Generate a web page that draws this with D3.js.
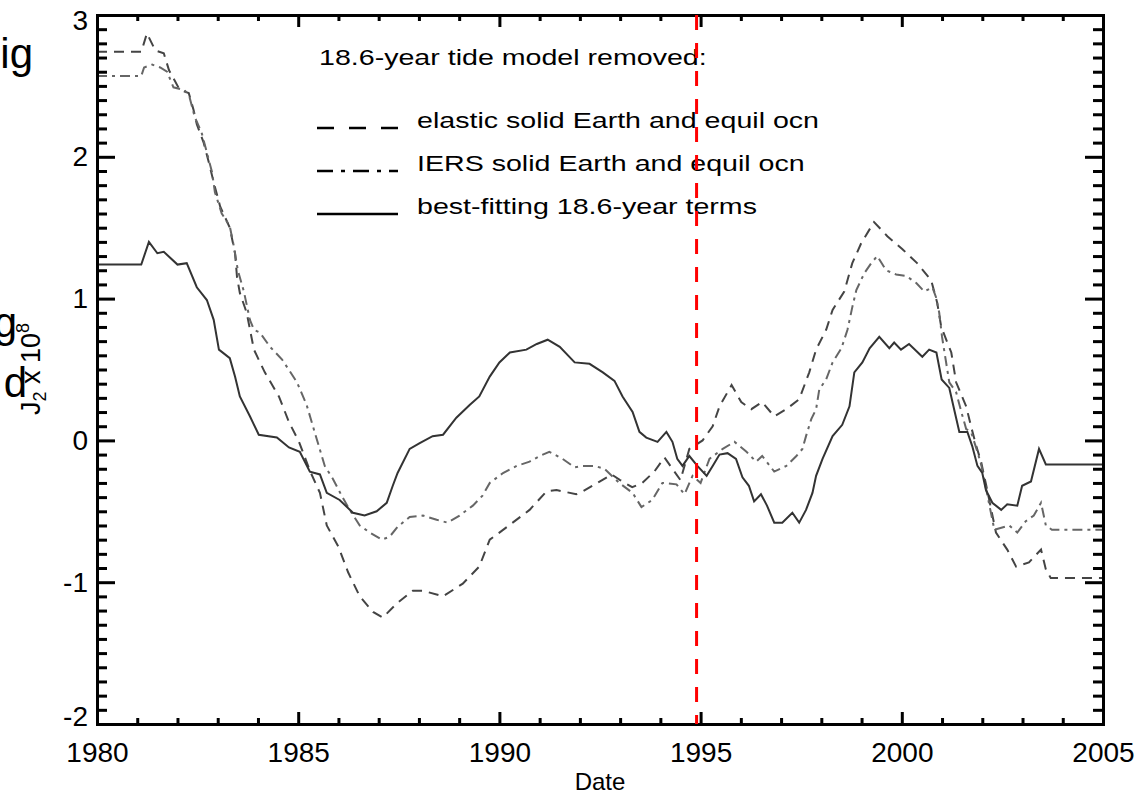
<!DOCTYPE html>
<html>
<head>
<meta charset="utf-8">
<script src="https://cdn.jsdelivr.net/npm/d3@7"></script>
<style>
  body { margin: 0; background: #fff; }
  text { font-family: "Liberation Sans", Arial, sans-serif; fill: #000; }
  .axis path, .axis line { stroke: #000; stroke-width: 3; }
  .axis text { font-size: 28px; }
  .legend text { font-size: 22px; }
</style>
</head>
<body>
<script>
// J2 anomaly series, [year, value x 1e8]
var elastic = [[1980.0,2.74],[1981.1,2.74],[1981.24,2.87],[1981.45,2.75],[1981.66,2.73],[1981.79,2.61],[1982.06,2.47],[1982.28,2.45],[1982.4,2.33],[1982.48,2.23],[1982.65,2.10],[1982.78,1.96],[1982.9,1.82],[1983.06,1.65],[1983.3,1.50],[1983.43,1.32],[1983.48,1.15],[1983.55,1.04],[1983.72,0.90],[1983.9,0.64],[1984.17,0.48],[1984.52,0.31],[1984.77,0.13],[1985.02,-0.01],[1985.3,-0.22],[1985.54,-0.37],[1985.71,-0.60],[1986.0,-0.75],[1986.24,-0.93],[1986.53,-1.10],[1986.86,-1.21],[1987.1,-1.25],[1987.45,-1.15],[1987.85,-1.06],[1988.1,-1.06],[1988.6,-1.10],[1989.09,-1.01],[1989.5,-0.89],[1989.76,-0.70],[1990.0,-0.65],[1990.33,-0.58],[1990.75,-0.49],[1991.17,-0.36],[1991.42,-0.35],[1991.91,-0.38],[1992.07,-0.36],[1992.49,-0.29],[1992.79,-0.24],[1993.0,-0.28],[1993.3,-0.33],[1993.55,-0.30],[1993.85,-0.22],[1994.1,-0.12],[1994.3,-0.20],[1994.5,-0.28],[1994.72,-0.06],[1995.05,0.0],[1995.3,0.10],[1995.47,0.24],[1995.77,0.39],[1996.01,0.27],[1996.26,0.22],[1996.53,0.27],[1996.83,0.17],[1997.13,0.22],[1997.45,0.29],[1997.7,0.48],[1997.87,0.64],[1998.12,0.78],[1998.28,0.92],[1998.57,1.05],[1998.77,1.25],[1998.99,1.39],[1999.31,1.54],[1999.64,1.44],[2000.01,1.35],[2000.38,1.25],[2000.73,1.13],[2000.88,0.97],[2000.98,0.80],[2001.23,0.62],[2001.35,0.41],[2001.6,0.24],[2001.72,0.10],[2001.85,-0.04],[2001.97,-0.15],[2002.1,-0.32],[2002.34,-0.65],[2002.62,-0.77],[2002.84,-0.89],[2003.16,-0.86],[2003.46,-0.77],[2003.58,-0.91],[2003.7,-0.97],[2005.0,-0.97]];

var iers = [[1980.0,2.57],[1981.1,2.57],[1981.17,2.63],[1981.37,2.65],[1981.57,2.63],[1981.74,2.60],[1981.9,2.49],[1982.18,2.47],[1982.3,2.42],[1982.43,2.28],[1982.6,2.17],[1982.73,2.03],[1982.86,1.89],[1982.93,1.75],[1983.1,1.60],[1983.3,1.51],[1983.4,1.37],[1983.5,1.20],[1983.65,1.05],[1983.8,0.85],[1983.9,0.78],[1984.05,0.76],[1984.3,0.66],[1984.6,0.57],[1984.97,0.41],[1985.21,0.25],[1985.46,0.01],[1985.66,-0.18],[1985.86,-0.27],[1986.08,-0.39],[1986.28,-0.49],[1986.53,-0.60],[1986.78,-0.65],[1987.08,-0.70],[1987.27,-0.68],[1987.47,-0.61],[1987.77,-0.54],[1988.1,-0.53],[1988.44,-0.56],[1988.71,-0.58],[1989.01,-0.53],[1989.34,-0.46],[1989.58,-0.39],[1989.76,-0.30],[1990.09,-0.23],[1990.43,-0.18],[1990.75,-0.15],[1991.0,-0.11],[1991.24,-0.08],[1991.57,-0.13],[1991.87,-0.19],[1992.07,-0.18],[1992.36,-0.18],[1992.61,-0.20],[1992.98,-0.30],[1993.31,-0.37],[1993.53,-0.47],[1993.8,-0.42],[1994.05,-0.30],[1994.4,-0.31],[1994.6,-0.38],[1994.8,-0.25],[1995.0,-0.30],[1995.22,-0.13],[1995.55,-0.06],[1995.84,-0.01],[1996.14,-0.08],[1996.38,-0.15],[1996.53,-0.11],[1996.83,-0.22],[1997.13,-0.18],[1997.38,-0.11],[1997.53,-0.06],[1997.62,0.03],[1997.75,0.15],[1997.87,0.22],[1997.95,0.36],[1998.12,0.43],[1998.28,0.55],[1998.5,0.65],[1998.65,0.78],[1998.77,0.94],[1998.87,1.06],[1999.07,1.18],[1999.24,1.25],[1999.39,1.30],[1999.61,1.20],[1999.86,1.17],[2000.11,1.16],[2000.36,1.11],[2000.56,1.05],[2000.76,1.08],[2000.85,1.01],[2000.93,0.90],[2001.0,0.73],[2001.18,0.41],[2001.35,0.34],[2001.48,0.20],[2001.6,0.08],[2001.72,0.06],[2001.88,-0.08],[2001.98,-0.18],[2002.3,-0.63],[2002.67,-0.60],[2002.87,-0.65],[2003.08,-0.57],[2003.28,-0.53],[2003.46,-0.44],[2003.58,-0.60],[2003.73,-0.63],[2005.0,-0.63]];

var best = [[1980.0,1.24],[1981.1,1.24],[1981.29,1.40],[1981.5,1.32],[1981.66,1.33],[1982.0,1.24],[1982.23,1.25],[1982.48,1.08],[1982.73,0.99],[1982.9,0.85],[1983.03,0.64],[1983.3,0.58],[1983.43,0.45],[1983.55,0.31],[1983.8,0.17],[1984.02,0.04],[1984.47,0.02],[1984.77,-0.05],[1985.04,-0.08],[1985.29,-0.22],[1985.54,-0.24],[1985.71,-0.37],[1986.03,-0.42],[1986.36,-0.51],[1986.65,-0.53],[1986.95,-0.50],[1987.2,-0.44],[1987.35,-0.32],[1987.47,-0.23],[1987.77,-0.06],[1988.02,-0.02],[1988.34,0.03],[1988.6,0.04],[1988.93,0.16],[1989.26,0.25],[1989.5,0.31],[1989.76,0.45],[1990.0,0.55],[1990.26,0.62],[1990.67,0.64],[1990.93,0.68],[1991.2,0.71],[1991.5,0.66],[1991.87,0.55],[1992.24,0.54],[1992.57,0.48],[1992.86,0.42],[1993.06,0.31],[1993.31,0.20],[1993.48,0.06],[1993.65,0.02],[1993.93,-0.01],[1994.15,0.06],[1994.3,-0.01],[1994.42,-0.13],[1994.55,-0.18],[1994.72,-0.11],[1994.92,-0.18],[1995.15,-0.25],[1995.3,-0.18],[1995.47,-0.10],[1995.67,-0.09],[1995.88,-0.13],[1996.04,-0.26],[1996.2,-0.32],[1996.33,-0.43],[1996.5,-0.38],[1996.65,-0.46],[1996.83,-0.58],[1997.03,-0.58],[1997.28,-0.51],[1997.45,-0.58],[1997.62,-0.49],[1997.78,-0.37],[1997.87,-0.25],[1998.03,-0.13],[1998.28,0.03],[1998.52,0.11],[1998.7,0.24],[1998.82,0.48],[1999.02,0.55],[1999.2,0.65],[1999.44,0.73],[1999.69,0.65],[1999.81,0.69],[1999.98,0.64],[2000.18,0.68],[2000.51,0.59],[2000.68,0.64],[2000.86,0.62],[2000.99,0.43],[2001.18,0.37],[2001.3,0.22],[2001.43,0.06],[2001.63,0.06],[2001.75,-0.04],[2001.88,-0.18],[2002.0,-0.23],[2002.09,-0.35],[2002.25,-0.44],[2002.47,-0.49],[2002.62,-0.45],[2002.87,-0.46],[2002.99,-0.32],[2003.21,-0.29],[2003.41,-0.06],[2003.58,-0.17],[2005.0,-0.17]];

var xMajor = [1980, 1985, 1990, 1995, 2000, 2005];
var yMajor = [-2, -1, 0, 1, 2, 3];
var markYear = 1994.9;
var legendTitle = "18.6-year tide model removed:";
var legendLabels = ["elastic solid Earth and equil ocn", "IERS solid Earth and equil ocn", "best-fitting 18.6-year terms"];

function plot_it() {
    var width = 1146, height = 795;
    var svg = d3.select('body').append('svg').attr('width', width).attr('height', height);

    var x = d3.scaleLinear().domain([1980, 2005]).range([97, 1103]);
    var y = d3.scaleLinear().domain([-2, 3]).range([724, 15]);

    var xMinor = d3.range(1980, 2006).filter(function (d) { return xMajor.indexOf(d) < 0; });
    var yMinor = d3.range(-20, 31).map(function (d) { return d / 10; })
        .filter(function (d) { return yMajor.indexOf(d) < 0; });

    // plain hyphen for negatives, like the original
    var fmt = function (d) { return String(d); };

    // bits of the page text cut off at the left edge
    var side = svg.append('g').attr('class', 'side');
    side.append('text').attr('x', 33).attr('y', 68).attr('text-anchor', 'end').style('font-size', '42px').text('ig');
    side.append('text').attr('x', 17).attr('y', 337).attr('text-anchor', 'end').style('font-size', '42px').text('g');
    side.append('text').attr('x', 27).attr('y', 397).attr('text-anchor', 'end').style('font-size', '42px').text('d');

    var line = d3.line()
        .x(function (d) { return x(d[0]); })
        .y(function (d) { return y(d[1]); });

    var series = [
        {data: elastic, dash: '10,7', color: '#444'},
        {data: iers, dash: '10,5,3,5', color: '#666'},
        {data: best, dash: null, color: '#333'}
    ];
    svg.append('g').selectAll('path').data(series).enter().append('path')
        .attr('d', function (d) { return line(d.data); })
        .attr('fill', 'none')
        .attr('stroke', function (d) { return d.color; })
        .attr('stroke-width', 2)
        .attr('stroke-dasharray', function (d) { return d.dash; });

    // axes, ticks pointing inward
    svg.append('g').attr('class', 'axis').attr('transform', 'translate(0,724)')
        .call(d3.axisBottom(x).tickValues(xMinor).tickSize(-6).tickSizeOuter(0).tickFormat(''));
    svg.append('g').attr('class', 'axis').attr('transform', 'translate(0,724)')
        .call(d3.axisBottom(x).tickValues(xMajor).tickSize(-12).tickSizeOuter(0).tickPadding(18).tickFormat(fmt));
    svg.append('g').attr('class', 'axis').attr('transform', 'translate(0,15)')
        .call(d3.axisTop(x).tickValues(xMinor).tickSize(-6).tickSizeOuter(0).tickFormat(''));
    svg.append('g').attr('class', 'axis').attr('transform', 'translate(0,15)')
        .call(d3.axisTop(x).tickValues(xMajor).tickSize(-12).tickSizeOuter(0).tickFormat(''));

    svg.append('g').attr('class', 'axis').attr('transform', 'translate(97,0)')
        .call(d3.axisLeft(y).tickValues(yMinor).tickSize(-10).tickSizeOuter(0).tickFormat(''));
    var yAx = svg.append('g').attr('class', 'axis').attr('transform', 'translate(97,0)')
        .call(d3.axisLeft(y).tickValues(yMajor).tickSize(-18).tickSizeOuter(0).tickPadding(9).tickFormat(fmt));
    svg.append('g').attr('class', 'axis').attr('transform', 'translate(1103,0)')
        .call(d3.axisRight(y).tickValues(yMinor).tickSize(-10).tickSizeOuter(0).tickFormat(''));
    svg.append('g').attr('class', 'axis').attr('transform', 'translate(1103,0)')
        .call(d3.axisRight(y).tickValues(yMajor).tickSize(-18).tickSizeOuter(0).tickFormat(''));

    // end labels sit a little inside the frame
    yAx.selectAll('.tick text').attr('dy', function (d) {
        return d == 3 ? '0.52em' : (d == -2 ? '0.05em' : '0.32em');
    });

    svg.selectAll('.axis .domain').attr('stroke-linecap', 'square');

    // axis titles
    svg.append('text').attr('x', x(1992.5)).attr('y', 790).attr('text-anchor', 'middle')
        .style('font-size', '24px').text('Date');

    var yl = svg.append('text').attr('transform', 'translate(40,369) rotate(-90)')
        .attr('text-anchor', 'middle').style('font-size', '27px');
    yl.append('tspan').text('J');
    yl.append('tspan').attr('dy', 6).style('font-size', '18px').text('2');
    yl.append('tspan').attr('dy', -6).text(' x 10');
    yl.append('tspan').attr('dy', -11).style('font-size', '18px').text('8');

    // legend, glyphs drawn wide like the original plot font
    var leg = svg.append('g').attr('class', 'legend');
    leg.append('text').attr('transform', 'translate(319,65) scale(1.3,1)').text(legendTitle);
    var rows = leg.selectAll('.row').data(series).enter().append('g')
        .attr('class', 'row')
        .attr('transform', function (d, i) { return 'translate(0,' + (128 + i * 43) + ')'; });
    rows.append('line')
        .attr('x1', 317).attr('x2', 398).attr('y1', 0).attr('y2', 0)
        .attr('stroke', '#000').attr('stroke-width', 2.5)
        .attr('stroke-dasharray', function (d, i) { return i == 0 ? '17,15' : (i == 1 ? '16,8,4,8' : null); });
    rows.append('text').attr('transform', 'translate(417,0) scale(1.3,1)')
        .text(function (d, i) { return legendLabels[i]; });

    // red marker line
    svg.append('line')
        .attr('x1', x(markYear)).attr('x2', x(markYear))
        .attr('y1', y(3)).attr('y2', y(-2))
        .attr('stroke', '#ff0000').attr('stroke-width', 3)
        .attr('stroke-dasharray', '15,13');
}

plot_it();
</script>
</body>
</html>
